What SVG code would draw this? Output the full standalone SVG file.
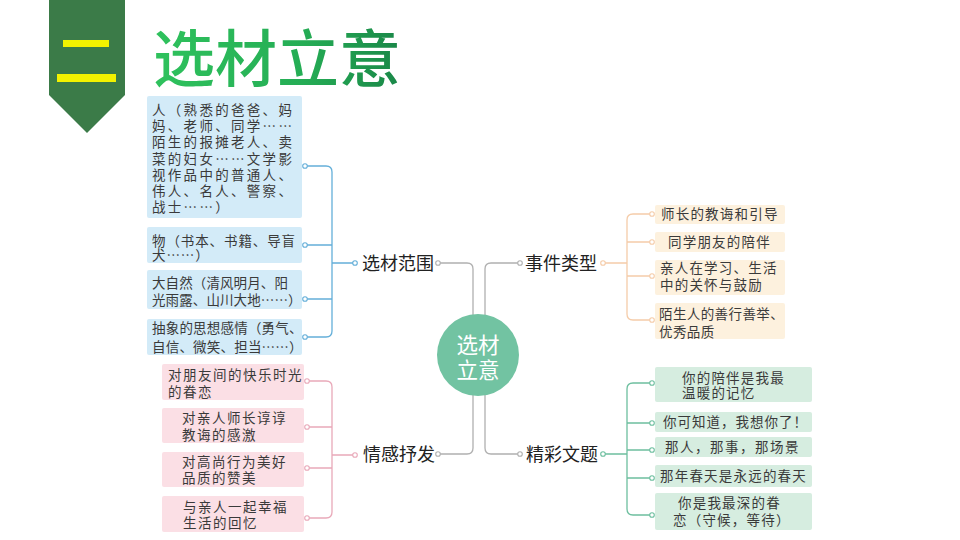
<svg xmlns="http://www.w3.org/2000/svg" width="960" height="540" viewBox="0 0 960 540">
<defs>
<linearGradient id="tg" x1="0" y1="0" x2="1" y2="0">
<stop offset="0" stop-color="#2fc25d"/>
<stop offset="0.6" stop-color="#25ad55"/>
<stop offset="1" stop-color="#1a8748"/>
</linearGradient>
<style>
.t{font-family:"Noto Sans CJK SC","Noto Sans",sans-serif;fill:#3a3a3a;font-size:13.5px}
.lbl{font-family:"Noto Sans CJK SC","Noto Sans",sans-serif;fill:#222;font-size:18px}
.ctr{font-family:"Noto Sans CJK SC","Noto Sans",sans-serif;fill:#fff;font-size:21.5px;text-anchor:middle}
.c{fill:none;stroke-width:1.3}
.blue{stroke:#64afd9}
.pink{stroke:#e9a9b9}
.orange{stroke:#f5cca9}
.green{stroke:#6dbf9f}
.gray{stroke:#b0b0b0}
.dot{fill:#fff;stroke-width:1.1}
.bb{fill:#d3ebf8}
.pb{fill:#fbdfe5}
.ob{fill:#fdf1de}
.gb{fill:#d6ede0}
</style>
</defs>
<rect width="960" height="540" fill="#fff"/>
<g id="header">
<polygon points="49,0 125,0 125,95 87,133 49,95" fill="#3b7b48"/>
<rect x="63" y="40" width="46" height="7" fill="#f2f200"/>
<rect x="57" y="74" width="59" height="8" fill="#f2f200"/>
<text x="153" y="82" font-family="'Noto Sans CJK SC','Noto Sans',sans-serif" font-size="62" font-weight="500" fill="url(#tg)">选材立意</text>
</g>
<g id="connectors">
<path class="c gray" d="M438,263 H467 Q473,263 473,269 V330"/>
<path class="c gray" d="M520,263 H491 Q485,263 485,269 V330"/>
<path class="c gray" d="M438,454 H467 Q473,454 473,448 V380"/>
<path class="c gray" d="M520,454 H491 Q485,454 485,448 V380"/>
<path class="c blue" d="M305,166 H326 Q332,166 332,172 V331 Q332,337 326,337 H305 M305,245 H332 M305,299 H332 M332,263 H355"/>
<path class="c pink" d="M307,381 H326 Q332,381 332,387 V512 Q332,518 326,518 H307 M307,427 H332 M307,468 H332 M332,455 H355"/>
<path class="c orange" d="M652,214 H633 Q627,214 627,220 V314 Q627,320 633,320 H652 M652,242 H627 M652,276 H627 M603,263 H627"/>
<path class="c green" d="M652,383 H633 Q627,383 627,389 V509 Q627,515 633,515 H652 M652,423 H627 M652,450 H627 M652,478 H627 M603,454 H627"/>
<g class="dot gray"><circle cx="438" cy="263" r="2.3"/><circle cx="520" cy="263" r="2.3"/><circle cx="438" cy="454" r="2.3"/><circle cx="520" cy="454" r="2.3"/></g>
<g class="dot blue"><circle cx="305" cy="166" r="2.3"/><circle cx="305" cy="245" r="2.3"/><circle cx="305" cy="299" r="2.3"/><circle cx="305" cy="337" r="2.3"/><circle cx="355" cy="263" r="2.3"/></g>
<g class="dot pink"><circle cx="307" cy="381" r="2.3"/><circle cx="307" cy="427" r="2.3"/><circle cx="307" cy="468" r="2.3"/><circle cx="307" cy="518" r="2.3"/><circle cx="355" cy="455" r="2.3"/></g>
<g class="dot orange"><circle cx="652" cy="214" r="2.3"/><circle cx="652" cy="242" r="2.3"/><circle cx="652" cy="276" r="2.3"/><circle cx="652" cy="320" r="2.3"/><circle cx="603" cy="263" r="2.3"/></g>
<g class="dot green"><circle cx="652" cy="383" r="2.3"/><circle cx="652" cy="423" r="2.3"/><circle cx="652" cy="450" r="2.3"/><circle cx="652" cy="478" r="2.3"/><circle cx="652" cy="515" r="2.3"/><circle cx="603" cy="454" r="2.3"/></g>
</g>
<g id="center">
<circle cx="478" cy="355" r="41" fill="#72c3a2"/>
<text class="ctr" x="478" y="353">选材</text>
<text class="ctr" x="478" y="378">立意</text>
</g>
<g id="label-scope"><text class="lbl" x="362" y="270">选材范围</text></g>
<g id="label-type"><text class="lbl" x="525" y="270">事件类型</text></g>
<g id="label-emotion"><text class="lbl" x="363" y="461">情感抒发</text></g>
<g id="label-title"><text class="lbl" x="526" y="461">精彩文题</text></g>
<g id="scope-1">
<rect class="bb" x="147" y="96" width="155" height="122" rx="2"/>
<text class="t" style="letter-spacing:2.3px">
<tspan x="152" y="115">人（熟悉的爸爸、妈</tspan>
<tspan x="152" y="131.2">妈、老师、同学……</tspan>
<tspan x="152" y="147.4">陌生的报摊老人、卖</tspan>
<tspan x="152" y="163.6">菜的妇女……文学影</tspan>
<tspan x="152" y="179.8">视作品中的普通人、</tspan>
<tspan x="152" y="196">伟人、名人、警察、</tspan>
<tspan x="152" y="212.2">战士……）</tspan>
</text>
</g>
<g id="scope-2">
<rect class="bb" x="147" y="227" width="155" height="36" rx="2"/>
<text class="t" style="letter-spacing:0.9px"><tspan x="152" y="245.7">物（书本、书籍、导盲</tspan><tspan x="152" y="260">犬……）</tspan></text>
</g>
<g id="scope-3">
<rect class="bb" x="147" y="270" width="155" height="39" rx="2"/>
<text class="t" style="letter-spacing:0.1px"><tspan x="152" y="288.3">大自然（清风明月、阳</tspan><tspan x="152" y="305">光雨露、山川大地……）</tspan></text>
</g>
<g id="scope-4">
<rect class="bb" x="147" y="319" width="155" height="36" rx="2"/>
<text class="t" style="letter-spacing:0.2px"><tspan x="152" y="333">抽象的思想感情（勇气、</tspan><tspan x="152" y="351.5">自信、微笑、担当……）</tspan></text>
</g>
<g id="emo-1">
<rect class="pb" x="162" y="364" width="142" height="36" rx="2"/>
<text class="t" style="letter-spacing:1.5px"><tspan x="168" y="380">对朋友间的快乐时光</tspan><tspan x="168" y="397">的眷恋</tspan></text>
</g>
<g id="emo-2">
<rect class="pb" x="162" y="408" width="142" height="35" rx="2"/>
<text class="t" style="letter-spacing:1.5px"><tspan x="182" y="423">对亲人师长谆谆</tspan><tspan x="182" y="440">教诲的感激</tspan></text>
</g>
<g id="emo-3">
<rect class="pb" x="162" y="452" width="142" height="35" rx="2"/>
<text class="t" style="letter-spacing:1.5px"><tspan x="182" y="467">对高尚行为美好</tspan><tspan x="182" y="483">品质的赞美</tspan></text>
</g>
<g id="emo-4">
<rect class="pb" x="162" y="496" width="142" height="36" rx="2"/>
<text class="t" style="letter-spacing:1.5px"><tspan x="183" y="512">与亲人一起幸福</tspan><tspan x="183" y="528">生活的回忆</tspan></text>
</g>
<g id="type-1">
<rect class="ob" x="655" y="205" width="130" height="19" rx="2"/>
<text class="t" style="letter-spacing:1.2px" x="661" y="219">师长的教诲和引导</text>
</g>
<g id="type-2">
<rect class="ob" x="655" y="232" width="130" height="20" rx="2"/>
<text class="t" style="letter-spacing:1.2px" x="668" y="247">同学朋友的陪伴</text>
</g>
<g id="type-3">
<rect class="ob" x="655" y="260" width="130" height="35" rx="2"/>
<text class="t" style="letter-spacing:1.2px"><tspan x="660" y="273">亲人在学习、生活</tspan><tspan x="660" y="290">中的关怀与鼓励</tspan></text>
</g>
<g id="type-4">
<rect class="ob" x="655" y="303" width="130" height="36" rx="2"/>
<text class="t" style="letter-spacing:0.4px"><tspan x="659" y="318.5">陌生人的善行善举、</tspan><tspan x="659" y="337">优秀品质</tspan></text>
</g>
<g id="title-1">
<rect class="gb" x="655" y="367" width="157" height="35" rx="2"/>
<text class="t" style="letter-spacing:1.2px"><tspan x="682" y="383">你的陪伴是我最</tspan><tspan x="682" y="398">温暖的记忆</tspan></text>
</g>
<g id="title-2">
<rect class="gb" x="655" y="412" width="157" height="20" rx="2"/>
<text class="t" style="letter-spacing:1px" x="663" y="427">你可知道，我想你了！</text>
</g>
<g id="title-3">
<rect class="gb" x="655" y="437" width="157" height="20" rx="2"/>
<text class="t" style="letter-spacing:1.5px" x="665" y="452">那人，那事，那场景</text>
</g>
<g id="title-4">
<rect class="gb" x="655" y="465" width="157" height="22" rx="2"/>
<text class="t" style="letter-spacing:1.2px" x="660" y="481">那年春天是永远的春天</text>
</g>
<g id="title-5">
<rect class="gb" x="655" y="493" width="157" height="37" rx="2"/>
<text class="t" style="letter-spacing:1.2px"><tspan x="678" y="508">你是我最深的眷</tspan><tspan x="673" y="525">恋（守候，等待）</tspan></text>
</g>
</svg>
